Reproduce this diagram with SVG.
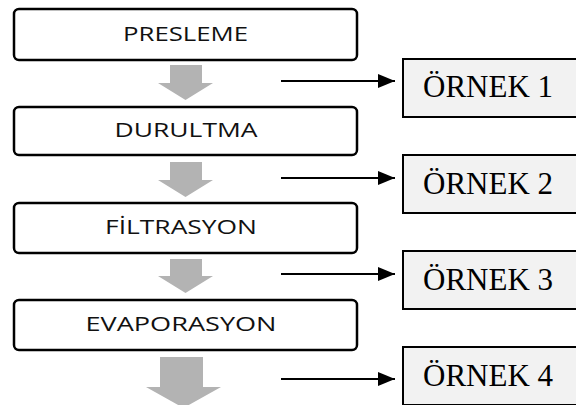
<svg xmlns="http://www.w3.org/2000/svg" width="576" height="405" viewBox="0 0 576 405">
<style>
.step{fill:#fff;stroke:#000;stroke-width:2.5}
.lbl{font-family:"Open Sans","Noto Sans",sans-serif;font-size:20px;fill:#111;text-anchor:middle}
.out{fill:#f2f2f2;stroke:#000;stroke-width:2}
.olbl{font-family:"Liberation Serif",serif;font-size:31px;fill:#000}
.flow{fill:#b3b3b3}
.conn{stroke:#000;stroke-width:2;fill:none}
</style>
<defs>
<marker id="ah" viewBox="0 0 17 14" refX="17" refY="7" markerWidth="17" markerHeight="14" markerUnits="userSpaceOnUse" orient="auto"><path d="M0,0 L17,7 L0,14 z" fill="#000"/></marker>
</defs>
<rect width="576" height="405" fill="#fff"/>
<g id="flow-arrows">
<polygon class="flow" points="170,65 202,65 202,83 213,83 185.5,100 158,83 170,83"/>
<polygon class="flow" points="170,162 202,162 202,180 213,180 185.5,197 158,180 170,180"/>
<polygon class="flow" points="170,259 202,259 202,276 213,276 185.5,293 158,276 170,276"/>
<polygon class="flow" points="160,357 203,357 203,387 221,387 183.5,408 146,387 160,387"/>
</g>
<g id="connectors">
<line class="conn" x1="281" y1="81" x2="395" y2="81" marker-end="url(#ah)"/>
<line class="conn" x1="281" y1="178" x2="395" y2="178" marker-end="url(#ah)"/>
<line class="conn" x1="281" y1="274" x2="395" y2="274" marker-end="url(#ah)"/>
<line class="conn" x1="281" y1="379" x2="395" y2="379" marker-end="url(#ah)"/>
</g>
<g id="presleme"><rect class="step" x="14" y="9" width="343" height="51" rx="5"/><text class="lbl" x="185.5" y="41" textLength="125" lengthAdjust="spacingAndGlyphs">PRESLEME</text></g>
<g id="durultma"><rect class="step" x="14" y="107" width="343" height="48" rx="5"/><text class="lbl" x="186" y="137" textLength="143" lengthAdjust="spacingAndGlyphs">DURULTMA</text></g>
<g id="filtrasyon"><rect class="step" x="14" y="203" width="343" height="50" rx="5"/><text class="lbl" x="181" y="234" textLength="152" lengthAdjust="spacingAndGlyphs">FİLTRASYON</text></g>
<g id="evaporasyon"><rect class="step" x="14" y="300" width="343" height="50" rx="5"/><text class="lbl" x="181" y="331" textLength="191" lengthAdjust="spacingAndGlyphs">EVAPORASYON</text></g>
<g id="ornek1"><rect class="out" x="403" y="59" width="190" height="58"/><text class="olbl" x="423" y="97">ÖRNEK 1</text></g>
<g id="ornek2"><rect class="out" x="403" y="155" width="190" height="58"/><text class="olbl" x="423" y="194">ÖRNEK 2</text></g>
<g id="ornek3"><rect class="out" x="403" y="251" width="190" height="58"/><text class="olbl" x="423" y="290">ÖRNEK 3</text></g>
<g id="ornek4"><rect class="out" x="403" y="347" width="190" height="58"/><text class="olbl" x="423" y="386">ÖRNEK 4</text></g>
</svg>
